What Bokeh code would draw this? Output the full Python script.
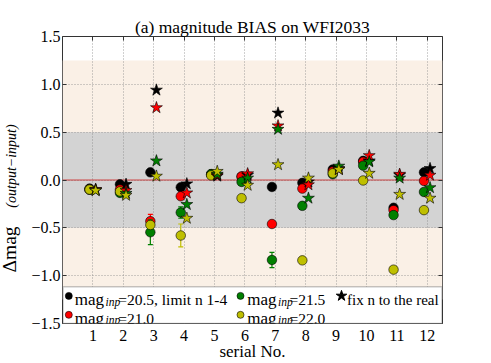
import numpy as np
from bokeh.plotting import figure
from bokeh.models import (BoxAnnotation, Span, Label, Title, FixedTicker, LinearAxis,
                          CustomJSTickFormatter)
from bokeh.embed import file_html
from bokeh.resources import INLINE

# ---------------- data ----------------
serial = np.array([1, 2, 3, 4, 5, 6, 7, 8, 9, 10, 11, 12])
x_ticks = [1, 2, 3, 4, 5, 6, 7, 8, 9, 10, 11, 12]
y_ticks = [-1.5, -1.0, -0.5, 0.0, 0.5, 1.0, 1.5]

# circles: limit n 1-4
lim_205 = np.array([-0.09, -0.045, 0.08, -0.076, 0.06, 0.035, -0.073, -0.03, 0.11, 0.20, -0.29, 0.08])
lim_210 = np.array([-0.10, -0.10, -0.43, -0.17, 0.06, 0.037, -0.46, -0.09, 0.09, 0.19, -0.315, -0.01])
lim_215 = np.array([-0.10, -0.135, -0.546, -0.34, 0.062, -0.02, -0.836, -0.27, 0.06, 0.15, -0.367, -0.125])
lim_220 = np.array([-0.10, -0.12, -0.47, -0.58, 0.048, -0.19, np.nan, -0.84, 0.07, -0.005, -0.937, -0.315])

err_205 = np.array([0.0, 0.0, 0.0, 0.0, 0.0, 0.0, 0.0, 0.0, 0.0, 0.0, 0.0, 0.0])
err_210 = np.array([0.0, 0.0, 0.07, 0.0, 0.0, 0.0, 0.0, 0.0, 0.0, 0.0, 0.0, 0.0])
err_215 = np.array([0.0, 0.0, 0.13, 0.06, 0.0, 0.0, 0.08, 0.0, 0.0, 0.0, 0.0, 0.0])
err_220 = np.array([0.0, 0.0, 0.0, 0.12, 0.0, 0.0, 0.0, 0.0, 0.0, 0.0, 0.0, 0.0])

# stars: fix n to the real
fix_205 = np.array([-0.10, -0.045, 0.94, -0.04, 0.04, 0.05, 0.70, -0.02, 0.12, 0.20, 0.05, 0.12])
fix_210 = np.array([-0.10, -0.11, 0.756, -0.135, 0.05, 0.065, 0.566, -0.05, 0.11, 0.255, 0.06, 0.05])
fix_215 = np.array([-0.11, -0.14, 0.20, -0.256, 0.06, 0.02, 0.53, -0.19, 0.145, 0.19, 0.02, -0.08])
fix_220 = np.array([-0.11, -0.16, 0.04, -0.40, 0.09, -0.055, 0.16, 0.02, 0.11, 0.07, -0.15, -0.19])

mag_values = ["20.5", "21.0", "21.5", "22.0"]
colors = ["#000000", "#ff0000", "#008000", "#bfbf00"]

# ---------------- layout ----------------
W, H = 491, 363
FL, FT = 62, 36          # frame left/top in pixels
FW, FH = 380, 288
XR = (0, 12.5)
YR = (-1.5, 1.5)
FONT = "Liberation Serif"

p = figure(width=W, height=H, x_range=XR, y_range=YR,
           output_backend="svg", toolbar_location=None,
           title="(a) magnitude BIAS on WFI2033",
           min_border_left=FL, min_border_right=W - FL - FW,
           min_border_top=FT, min_border_bottom=H - FT - FH)
p.background_fill_color = "white"
p.border_fill_color = "white"
p.outline_line_color = "#333333"
p.outline_line_width = 1

p.title.align = "center"
p.title.text_font = FONT
p.title.text_font_size = "17.5px"
p.title.text_font_style = "normal"
p.title.text_color = "black"
p.title.standoff = -1.5

# bands
p.add_layout(BoxAnnotation(bottom=-1.25, top=1.25, fill_color="#faf0e6", fill_alpha=1.0,
                           line_color=None, level="image"))
p.add_layout(BoxAnnotation(bottom=-0.5, top=0.5, fill_color="#d3d3d3", fill_alpha=1.0,
                           line_color=None, level="image"))

# axes
p.xaxis.ticker = FixedTicker(ticks=x_ticks)
p.yaxis.ticker = FixedTicker(ticks=y_ticks)
p.yaxis.formatter = CustomJSTickFormatter(code="return tick.toFixed(1).replace('-', '\u2212');")
for ax in (p.xaxis, p.yaxis):
    ax.axis_line_color = None
    ax.major_tick_in = 4
    ax.major_tick_out = 0
    ax.minor_tick_line_color = None
    ax.major_tick_line_color = "#333333"
    ax.major_label_text_font = FONT
    ax.major_label_text_font_size = "16px"
    ax.major_label_text_color = "black"
p.xaxis.major_label_standoff = 6
p.yaxis.major_label_standoff = 2

p.xaxis.axis_label = "serial No."
p.xaxis.axis_label_text_font = FONT
p.xaxis.axis_label_text_font_size = "17px"
p.xaxis.axis_label_text_font_style = "normal"
p.xaxis.axis_label_text_color = "black"
p.xaxis.axis_label_standoff = -2

p.yaxis.axis_label = "\u2003\u2003(output\u2212input)"
p.yaxis.axis_label_text_font = FONT
p.yaxis.axis_label_text_font_size = "14px"
p.yaxis.axis_label_text_font_style = "italic"
p.yaxis.axis_label_text_color = "black"
p.yaxis.axis_label_standoff = 9

p.add_layout(Title(text="\u0394mag", align="left", vertical_align="bottom", offset=51,
                   standoff=-37, text_font=FONT, text_font_size="19.5px",
                   text_font_style="normal", text_color="black"), "left")

# mirrored inside ticks (no labels)
blank = CustomJSTickFormatter(code="return '';")
for side, tk in (("right", y_ticks), ("above", x_ticks)):
    ax = LinearAxis(ticker=FixedTicker(ticks=tk), formatter=blank,
                    axis_line_color=None, major_tick_in=4, major_tick_out=0,
                    minor_tick_line_color=None, major_tick_line_color="#333333",
                    major_label_text_font_size="1px", major_label_standoff=0)
    p.add_layout(ax, side)

for g in (p.xgrid, p.ygrid):
    g.grid_line_color = "#888888"
    g.grid_line_dash = "1 2"
    g.grid_line_width = 0.8

p.add_layout(Span(location=0, dimension="width", line_color="#cc2020", line_width=0.8,
                  level="underlay"))

# data
OFF_C, OFF_S = -0.11, 0.09
lims = [lim_205, lim_210, lim_215, lim_220]
errs = [err_205, err_210, err_215, err_220]
fixs = [fix_205, fix_210, fix_215, fix_220]

for col, yv, ev in zip(colors, lims, errs):
    m = ev > 0
    xs = serial[m] + OFF_C
    p.segment(x0=xs, y0=yv[m] - ev[m], x1=xs, y1=yv[m] + ev[m], line_color=col, line_width=1.2)
    p.scatter(x=np.concatenate([xs, xs]), y=np.concatenate([yv[m] - ev[m], yv[m] + ev[m]]),
              marker="dash", size=5, line_color=col, line_width=1.2)
    p.scatter(x=serial + OFF_C, y=yv, marker="circle", size=9.5, fill_color=col,
              line_color="black", line_width=0.6)

for col, yv in zip(colors, fixs):
    p.scatter(x=serial + OFF_S, y=yv, marker="star", size=12.5, fill_color=col,
              line_color="black", line_width=0.6)


def px2x(px):
    return XR[0] + (px - FL) * (XR[1] - XR[0]) / FW


def py2y(py):
    return YR[1] - (py - FT) * (YR[1] - YR[0]) / FH


def place(text, px, py, size, style="normal", align="left"):
    return Label(x=XR[0], y=YR[1], x_units="data", y_units="data",
                 x_offset=px - FL, y_offset=FT - py, text=text,
                 text_font=FONT, text_font_size=f"{size}px", text_font_style=style,
                 text_align=align, text_baseline="alphabetic", text_color="black")


# legend
p.add_layout(BoxAnnotation(left=px2x(62.5), right=px2x(441.5), bottom=py2y(324), top=py2y(287),
                           fill_color="white", fill_alpha=1.0, line_color="#444444",
                           line_width=1.5, level="annotation"))

rows = [299.3, 318.3]
drops = [2.0, 1.5]
entries = [
    (0, 0, 68.3, 74.3, 105.0, 117.7, "=20.5, limit n 1-4"),
    (1, 1, 68.3, 74.3, 105.0, 117.7, "=21.0"),
    (2, 0, 240.0, 246.7, 277.5, 289.0, "=21.5"),
    (3, 1, 240.0, 246.7, 277.5, 289.0, "=22.0"),
]
lx, ly, lc = [], [], []
for idx, r, mx, tx, sx, ex, tail in entries:
    by = rows[r]
    lx.append(px2x(mx))
    ly.append(py2y(by - 3))
    lc.append(colors[idx])
    p.add_layout(place("mag", tx, by, 17))
    p.add_layout(place("inp", sx, by + drops[r], 11.5, style="italic"))
    p.add_layout(place(tail, ex, by, 15.5))
p.scatter(x=lx, y=ly, marker="circle", size=7, fill_color=lc, line_color="black",
          line_width=0.6, level="overlay")
p.scatter(x=[px2x(341)], y=[py2y(rows[0] - 3)], marker="star", size=11, fill_color="black",
          line_color="black", level="overlay")
p.add_layout(place("fix n to the real", 346.5, rows[0], 15))

open("out.html", "w").write(file_html(p, INLINE))
